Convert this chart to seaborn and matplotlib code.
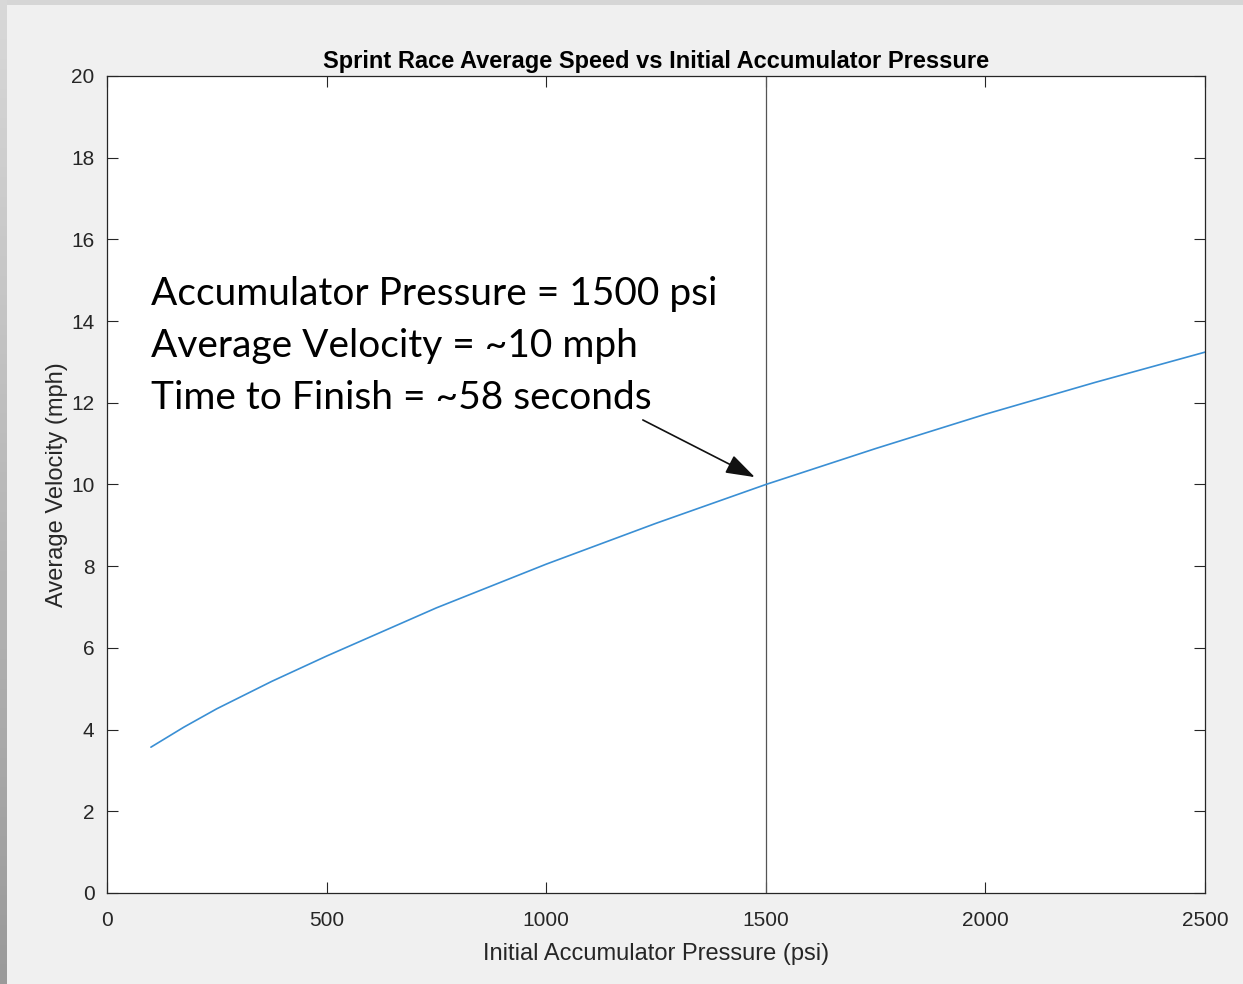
import numpy as np
import pandas as pd
import matplotlib as mpl
mpl.use("Agg")
import matplotlib.pyplot as plt
import seaborn as sns

# ------------------------------------------------------------
# Data
# ------------------------------------------------------------
PRESSURE_PSI = [100, 175, 250, 375, 500, 750, 1000, 1250, 1500, 1750, 2000, 2250, 2500]
AVG_VELOCITY_MPH = [3.57, 4.06, 4.51, 5.18, 5.80, 6.98, 8.05, 9.05, 10.0, 10.88, 11.72, 12.5, 13.24]

MARK_PSI = 1500

X_TICKS = [0, 500, 1000, 1500, 2000, 2500]
Y_TICKS = [0, 2, 4, 6, 8, 10, 12, 14, 16, 18, 20]

NOTE_LINES = [
    "Accumulator Pressure = 1500 psi",
    "Average Velocity = ~10 mph",
    "Time to Finish = ~58 seconds",
]

TITLE = "Sprint Race Average Speed vs Initial Accumulator Pressure"
XLABEL = "Initial Accumulator Pressure (psi)"
YLABEL = "Average Velocity (mph)"

df = pd.DataFrame({"pressure": PRESSURE_PSI, "velocity": AVG_VELOCITY_MPH})

# ------------------------------------------------------------
# Style (MATLAB-ish look)
# ------------------------------------------------------------
sns.set_style("ticks")
plt.rcParams["font.family"] = ["Liberation Sans", "DejaVu Sans"]
AX_COL = "#262626"
TXT_COL = "#262626"

fig = plt.figure(figsize=(12.43, 9.84), dpi=100, facecolor="#f0f0f0")

# screenshot border strips
strip_top = fig.add_axes([0, 1 - 5 / 984, 1, 5 / 984])
strip_top.set_axis_off()
strip_top.add_patch(plt.Rectangle((0, 0), 1, 1, color="#d6d6d6", transform=strip_top.transAxes))
strip_left = fig.add_axes([0, 0, 7 / 1243, 1])
strip_left.set_axis_off()
strip_left.imshow(np.linspace(0, 1, 100)[:, None], aspect="auto",
                  cmap=mpl.colors.LinearSegmentedColormap.from_list("g", ["#d8d8d8", "#9a9a9a"]),
                  extent=[0, 1, 0, 1])

ax = fig.add_axes([107 / 1243, 1 - 893 / 984, 1098 / 1243, 817 / 984])
ax.set_facecolor("white")

sns.lineplot(data=df, x="pressure", y="velocity", ax=ax, color="#3a8fd4", linewidth=1.2)
ax.axvline(MARK_PSI, color="#555555", linewidth=0.9, zorder=1)

ax.set_xlim(0, 2500)
ax.set_ylim(0, 20)
ax.set_xticks(X_TICKS)
ax.set_yticks(Y_TICKS)
ax.tick_params(direction="in", length=8, width=0.8, colors=AX_COL, labelcolor=TXT_COL,
               labelsize=15, top=True, right=True)
ax.tick_params(axis="x", pad=13)
ax.tick_params(axis="y", pad=9)
for s in ax.spines.values():
    s.set_color(AX_COL)
    s.set_linewidth(0.9)

ax.set_title(TITLE, fontsize=17, fontweight="bold", color="black", pad=6)
ax.set_xlabel(XLABEL, fontsize=17, color=TXT_COL, labelpad=9)
ax.set_ylabel(YLABEL, fontsize=17, color=TXT_COL, labelpad=2)

# annotation text (overlaid callout)
baselines = [14.39, 13.12, 11.85]
for line, yb in zip(NOTE_LINES, baselines):
    ax.text(100, yb, line, fontsize=28, family=["Lato", "DejaVu Sans"], color="black",
            va="baseline", ha="left")

ax.annotate("", xy=(1475, 10.18), xytext=(1220, 11.58),
            arrowprops=dict(arrowstyle="-|>,head_length=0.9,head_width=0.3", color="#111111",
                            lw=1.2, mutation_scale=20, shrinkA=0, shrinkB=0))

fig.savefig("out.png", dpi=100, facecolor=fig.get_facecolor())
